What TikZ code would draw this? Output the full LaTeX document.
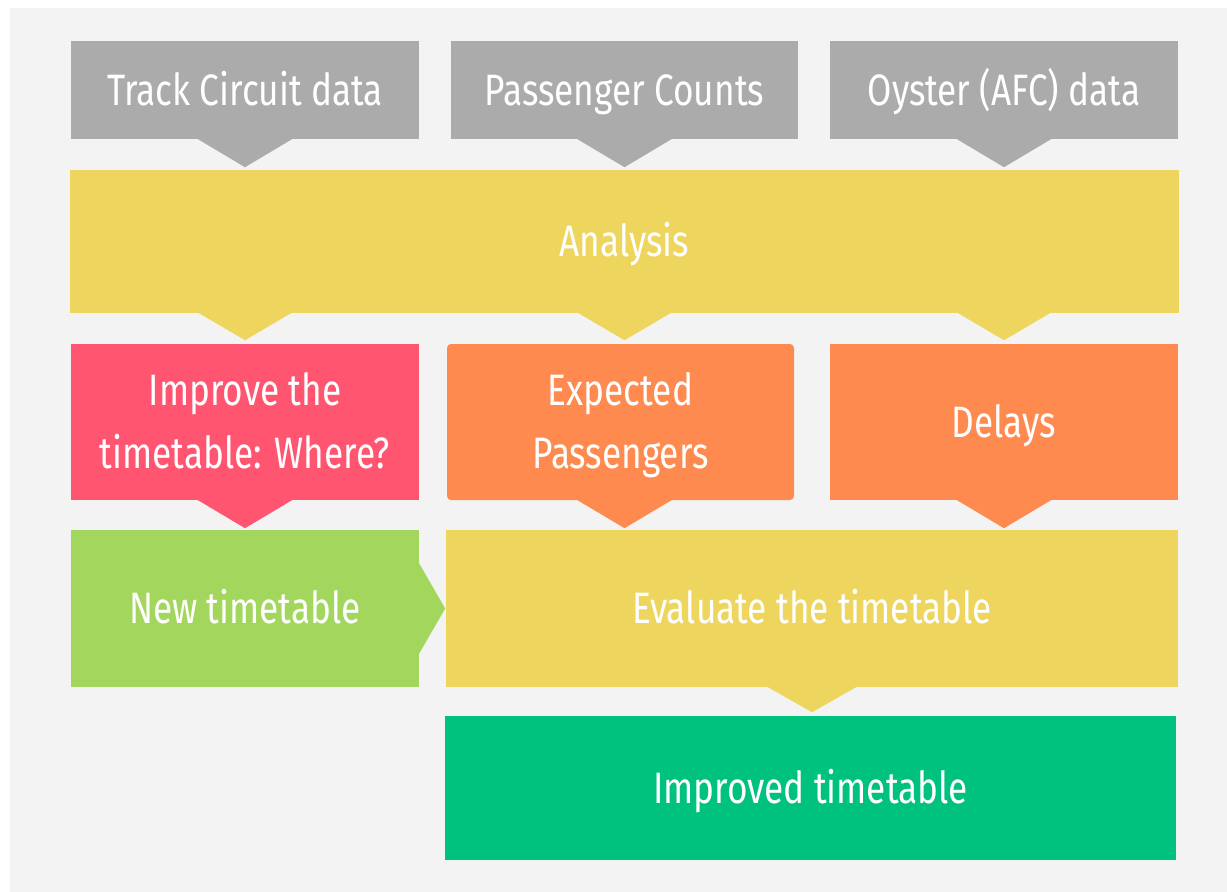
\documentclass[tikz,border=0pt]{standalone}
\usepackage{fontspec}
\setmainfont{Fira Sans}[FakeStretch=0.8]
\usetikzlibrary{calc}

\definecolor{bgc}{HTML}{F3F3F3}
\definecolor{srcgray}{HTML}{ABABAB}
\definecolor{stepyellow}{HTML}{EED55D}
\definecolor{steppink}{HTML}{FF5570}
\definecolor{steporange}{HTML}{FF8A50}
\definecolor{steplime}{HTML}{A3D65C}
\definecolor{stepgreen}{HTML}{00C27F}

\tikzset{
  stagebox/.style={rectangle, inner sep=0pt, text=white, align=center,
    text height=30.3pt, text depth=0pt,
    font=\fontsize{44}{63}\selectfont},
  twoline/.style={text height=93.3pt},
  wide/.style={minimum width=348pt},
  tall/.style={minimum height=156pt},
}

\begin{document}
\begin{tikzpicture}[x=1pt, y=-1pt]
  \useasboundingbox (0,0) rectangle (1227,892);
  \fill[bgc] (10,8) rectangle (1227,892);

  % data sources
  \node[stagebox, wide, minimum height=98pt, fill=srcgray] (tc) at (245,90) {Track Circuit data};
  \node[stagebox, minimum width=347pt, minimum height=98pt, fill=srcgray] (pc) at (624.5,90) {Passenger Counts};
  \node[stagebox, wide, minimum height=98pt, fill=srcgray] (oy) at (1004,90) {Oyster (AFC) data};

  % analysis
  \node[stagebox, minimum width=1109pt, minimum height=143pt, fill=stepyellow] (an) at (624.5,241.5) {Analysis};

  % results of the analysis
  \node[stagebox, twoline, wide, tall, fill=steppink] (im) at (245,422) {Improve the\\timetable: Where?};
  \node[stagebox, twoline, minimum width=347pt, tall, fill=steporange, rounded corners=4pt] (ex) at (620.5,422) {Expected\\Passengers};
  \node[stagebox, wide, tall, fill=steporange] (de) at (1004,422) {Delays};

  % timetable loop
  \node[stagebox, wide, minimum height=157pt, fill=steplime] (nt) at (245,608.5) {New timetable};
  \node[stagebox, minimum width=732pt, minimum height=157pt, fill=stepyellow] (ev) at (812,608.5) {Evaluate the timetable};
  \node[stagebox, minimum width=731pt, minimum height=144pt, fill=stepgreen] (it) at (810.5,788) {Improved timetable};

  % downward pointers, each on the column of its data source
  \foreach \src in {tc, pc, oy}{
    \fill[srcgray] ([xshift=-47pt]\src.south) -- ([yshift=-28pt]\src.south) -- ([xshift=47pt]\src.south) -- cycle;
  }
  \foreach \dst in {tc, pc, oy}{
    \coordinate (p) at (\dst.south |- an.south);
    \fill[stepyellow] ([xshift=-46pt]p) -- ([yshift=-27pt]p) -- ([xshift=46pt]p) -- cycle;
  }
  \foreach \colname/\tint/\res in {tc/steppink/im, pc/steporange/ex, oy/steporange/de}{
    \coordinate (p) at (\colname.south |- \res.south);
    \fill[\tint] ([xshift=-47pt]p) -- ([yshift=-28pt]p) -- ([xshift=47pt]p) -- cycle;
  }
  \fill[stepyellow] ([xshift=-44pt]ev.south) -- ([yshift=-25pt]ev.south) -- ([xshift=44pt]ev.south) -- cycle;

  % sideways pointer into the evaluation
  \fill[steplime] ([yshift=-45pt]nt.east) -- ([xshift=26pt]nt.east) -- ([yshift=45pt]nt.east) -- cycle;
\end{tikzpicture}
\end{document}
